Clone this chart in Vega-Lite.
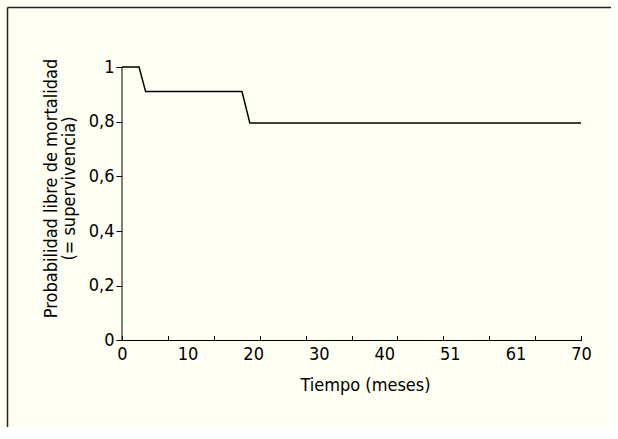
{
  "$schema": "https://vega.github.io/schema/vega-lite/v6.json",
  "autosize": "none",
  "width": 604,
  "height": 420,
  "padding": {"left": 7, "top": 7, "right": 0, "bottom": 0},
  "background": "#fffff4",
  "config": {
    "view": {"stroke": "transparent", "strokeWidth": 0, "fill": "#fffff4"},
    "font": "DejaVu Sans Condensed, Roboto, sans-serif",
    "axis": {
      "labelFont": "DejaVu Sans Condensed, Roboto, sans-serif",
      "titleFont": "DejaVu Sans Condensed, Roboto, sans-serif",
      "labelFontSize": 18,
      "titleFontSize": 18,
      "titleFontWeight": "normal",
      "labelColor": "black",
      "titleColor": "black",
      "tickColor": "black",
      "domainColor": "black",
      "grid": false
    }
  },
  "datasets": {
    "curve": [
      {"t": 0, "s": 1},
      {"t": 2.6, "s": 1},
      {"t": 3.6, "s": 0.91},
      {"t": 18.3, "s": 0.91},
      {"t": 19.5, "s": 0.795},
      {"t": 70, "s": 0.795}
    ],
    "axislines": [
      {"x": 0, "x2": 70, "y": 0, "y2": 0},
      {"x": 0, "x2": 0, "y": 0, "y2": 1}
    ]
  },
  "resolve": {"axis": {"x": "independent", "y": "independent"}},
  "layer": [
    {
      "data": {"name": "curve"},
      "mark": {"type": "line", "color": "black", "strokeWidth": 1.5},
      "encoding": {
        "x": {
          "field": "t", "type": "quantitative",
          "scale": {"domain": [-17.538, 74.575], "nice": false, "zero": false},
          "axis": {
            "orient": "bottom", "offset": -86.5, "domain": false, "ticks": false, "tickSize": 0,
            "values": [0, 10, 20, 30, 40, 50, 60, 70],
            "labelExpr": "datum.value == 50 ? '51' : datum.value == 60 ? '61' : format(datum.value, 'd')",
            "labelPadding": 5,
            "title": "Tiempo (meses)", "titleX": 358, "titleY": 36
          }
        },
        "y": {
          "field": "s", "type": "quantitative",
          "scale": {"domain": [-0.3163, 1.2194], "nice": false, "zero": false},
          "axis": {
            "orient": "left", "offset": -115, "domain": false, "tickSize": 6,
            "values": [0, 0.2, 0.4, 0.6, 0.8, 1],
            "labelExpr": "datum.value == 0 ? '0' : datum.value == 1 ? '1' : replace(format(datum.value, '.1f'), '.', ',')",
            "labelPadding": 2,
            "title": ["Probabilidad libre de mortalidad", "(= supervivencia)"],
            "titleY": 181, "titlePadding": 10, "titleLineHeight": 18
          }
        }
      }
    },
    {
      "data": {"name": "axislines"},
      "mark": {"type": "rule", "color": "black", "strokeWidth": 1},
      "encoding": {
        "x": {
          "field": "x", "type": "quantitative",
          "axis": {
            "orient": "bottom", "offset": -86.5, "domain": false, "labels": false,
            "tickSize": -5, "values": [0, 7, 14, 21, 28, 35, 42, 49, 56, 63, 70], "title": null
          }
        },
        "x2": {"field": "x2"},
        "y": {
          "field": "y", "type": "quantitative",
          "axis": {"orient": "left", "offset": 0, "domain": true, "domainColor": "#222222", "domainWidth": 1.5, "ticks": false, "labels": false, "title": null}
        },
        "y2": {"field": "y2"}
      }
    },
    {
      "data": {"name": "curve"},
      "mark": {"type": "line", "opacity": 0},
      "encoding": {
        "x": {
          "field": "t", "type": "quantitative",
          "axis": {"orient": "top", "offset": 0, "domain": true, "domainColor": "#222222", "domainWidth": 1.5, "ticks": false, "labels": false, "title": null}
        },
        "y": {"field": "s", "type": "quantitative", "axis": null}
      }
    }
  ]
}
